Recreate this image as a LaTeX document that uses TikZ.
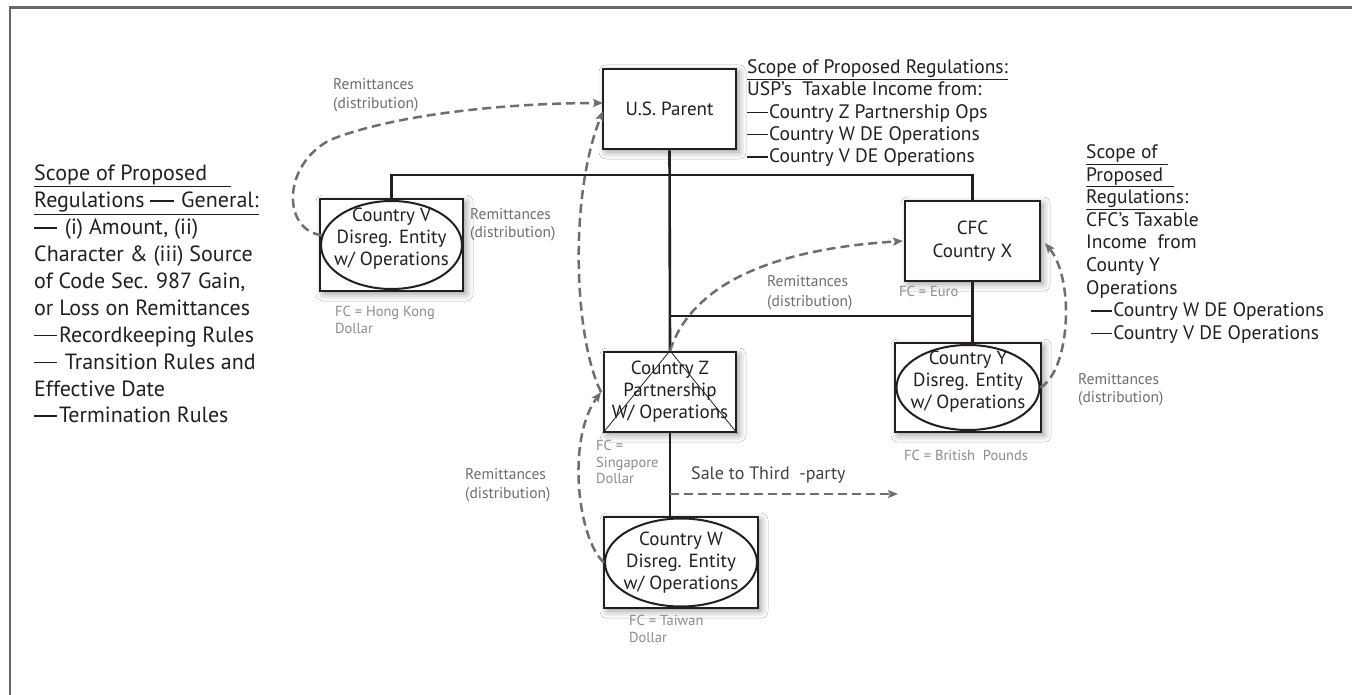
\documentclass[tikz,border=0pt]{standalone}
\usepackage{fontspec}
\setmainfont{PT Sans}
\usetikzlibrary{arrows.meta,shapes.geometric,shadows.blur}
\definecolor{ink}{HTML}{231F20}
\definecolor{dgray}{HTML}{6E6E6E}
\definecolor{lgray}{HTML}{8C8C8C}
\definecolor{framec}{HTML}{666666}
\newcommand\Dsh{\rule[0.27em]{1.05em}{0.07em}\hspace{0.08em}}
\tikzset{
 box/.style={draw=ink, line width=2.6pt, fill=white, inner sep=0pt, align=center, text=ink,
   font=\fontsize{19}{22}\selectfont,
   blur shadow={shadow xshift=3pt, shadow yshift=-3pt, shadow blur radius=7pt, shadow opacity=40}},
 oval/.style={ellipse, draw=ink, line width=2pt, inner sep=0pt},
 link/.style={draw=ink, line width=2.6pt},
 remit/.style={draw=dgray, line width=2.5pt, dash pattern=on 9pt off 5pt, -{Stealth[length=10pt,width=8pt,inset=2pt]}},
 lab/.style={text=dgray, inner sep=0pt, align=left, anchor=north west, font=\fontsize{15.5}{18.5}\selectfont},
 fclab/.style={text=lgray, inner sep=0pt, align=left, anchor=north west, font=\fontsize{14.5}{16.5}\selectfont},
 note/.style={text=ink, inner sep=0pt, align=left, anchor=north west}
}
\begin{document}
\begin{tikzpicture}[x=1pt,y=-1pt]
\useasboundingbox (0,0) rectangle (1352,695);
\fill[white] (0,0) rectangle (1352,695);
% frame
\draw[framec, line width=2.4pt] (10,700) -- (10,7.5) -- (1360,7.5);

% boxes
\node[box, minimum width=133pt, minimum height=80pt] (us) at (669.5,109) {U.S. Parent};
\node[box, minimum width=143pt, minimum height=92pt, text depth=16pt] (v) at (391.5,245) {Country V\\Disreg. Entity\\w/ Operations};
\node[oval, minimum width=141pt, minimum height=88pt] (ve) at (v.center) {};
\node[box, minimum width=135pt, minimum height=80pt] (cfc) at (972.5,241) {CFC\\[1pt]Country X};
\node[box, minimum width=132pt, minimum height=80pt] (z) at (670,392) {Country Z\\Partnership\\W/ Operations};
\draw[ink, line width=0.8pt] (z.south west) -- (z.north) -- (z.south east);
\node[box, minimum width=146pt, minimum height=89pt, text depth=15pt] (yb) at (968,387.5) {Country Y\\Disreg. Entity\\w/ Operations};
\node[oval, minimum width=143pt, minimum height=85pt] (ye) at (yb.center) {};
\node[box, minimum width=154pt, minimum height=91pt] (w) at (681,562.5) {Country W\\Disreg. Entity\\w/ Operations};
\node[oval, minimum width=152pt, minimum height=88pt] (we) at (w.center) {};

% tree links
\coordinate (busR) at (972.5,175);
\coordinate (j1) at (670,316);
\draw[link] (v.north) |- (busR) -- (cfc.north);
\draw[link] (us.south) -- (z.north);
\draw[link] (j1) -- (j1 -| cfc.south);
\draw[link] (cfc.south) -- (cfc.south |- yb.north);
\draw[link] (z.south) -- (z.south |- w.north);

% remittance arrows
\coordinate (usin1) at (603,103);
\coordinate (usin2) at (603,111);
\coordinate (zin) at (601,392);
\coordinate (cfcin) at (903,241);
\coordinate (cfcin2) at (1045,243);
\coordinate (saleS) at (670,494);
\coordinate (saleE) at (898,494);
\draw[remit] (ve.172) .. controls (282,230) and (282,165) .. (330,140) .. controls (400,112) and (520,103) .. (usin1);
\draw[remit] (zin) .. controls (575,340) and (568,200) .. (usin2);
\draw[remit] (we.west) .. controls (578,540) and (566,440) .. (zin);
\draw[remit] (z.north) .. controls (690,290) and (760,250) .. (cfcin);
\draw[remit] (ye.east) .. controls (1070,370) and (1075,280) .. (cfcin2);
\draw[remit] (saleS) -- (saleE);

% labels
\node[lab, font=\fontsize{15.5}{19}\selectfont] (r1) at (333,78.5) {Remittances\\(distribution)};
\node[lab, font=\fontsize{15.5}{17.5}\selectfont] (r2) at (470,208.5) {Remittances\\(distribution)};
\node[lab, font=\fontsize{15.5}{20}\selectfont] (r3) at (767,275.5) {Remittances\\(distribution)};
\node[lab, font=\fontsize{15.5}{18}\selectfont] (r4) at (1078,373.5) {Remittances\\(distribution)};
\node[lab, font=\fontsize{15.5}{19}\selectfont] (r5) at (465,468.5) {Remittances\\(distribution)};
\node[fclab] (f1) at (335,306) {FC = Hong Kong\\Dollar};
\node[fclab] (f2) at (899,286) {FC = Euro};
\node[fclab] (f3) at (904,450) {FC = British\ \ Pounds};
\node[fclab] (f4) at (596,440) {FC =\\Singapore\\Dollar};
\node[fclab] (f5) at (629,615) {FC = Taiwan\\Dollar};
\node[note, text=ink!85, font=\fontsize{18}{20}\selectfont] (sale) at (691,466) {Sale to Third\ \ -party};

% text blocks
\node[note, font=\fontsize{22}{26.9}\selectfont] (gen) at (34,165) {\underline{Scope of Proposed\ \ \ \ }\\\underline{Regulations \Dsh\ General:}\\\Dsh\ (i) Amount, (ii)\\Character \& (iii) Source\\of Code Sec. 987 Gain,\\or Loss on Remittances\\\Dsh Recordkeeping Rules\\\Dsh\ Transition Rules and\\Effective Date\\\Dsh Termination Rules};
\node[note, font=\fontsize{19.5}{22.3}\selectfont] (usp) at (747,59.5) {\underline{Scope of Proposed Regulations:}\\USP’s\ \ Taxable Income from:\\\Dsh Country Z Partnership Ops\\\Dsh Country W DE Operations\\\Dsh Country V DE Operations};
\node[note, font=\fontsize{19.5}{22.6}\selectfont] (cfcs) at (1086,144.5) {\underline{Scope of\ \ }\\\underline{Proposed\ \ }\\\underline{Regulations}:\\CFC’s Taxable\\Income\ \ from\\County Y\\Operations\\\ \Dsh Country W DE Operations\\\ \Dsh Country V DE Operations};
\end{tikzpicture}
\end{document}
